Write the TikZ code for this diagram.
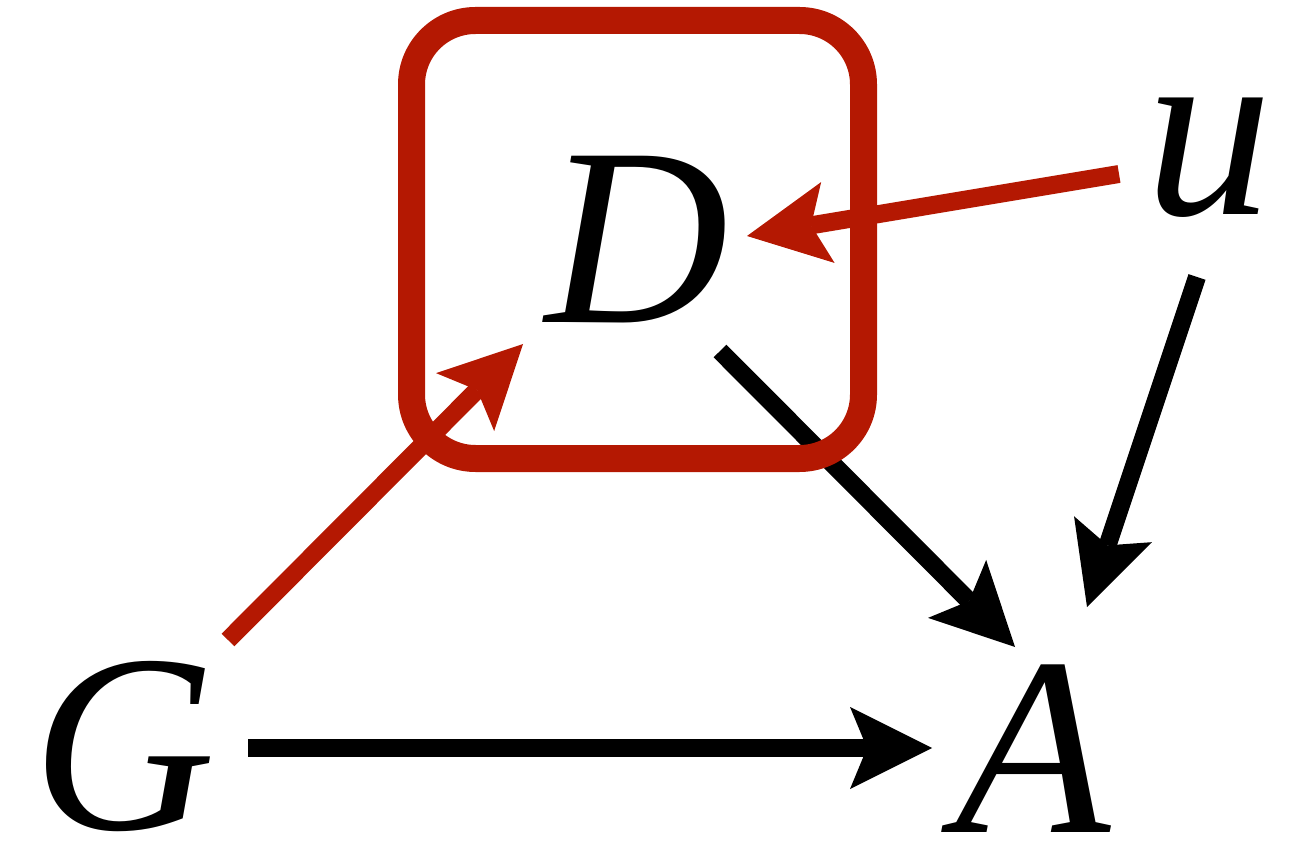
\documentclass[tikz,border=0pt]{standalone}
\usepackage{fontspec}
\setmainfont{Liberation Serif}
\usetikzlibrary{arrows.meta}
\definecolor{boxred}{RGB}{180,24,2}
\tikzset{
  lbl/.style={inner sep=0pt, outer sep=0pt, anchor=base, font=\fontsize{127}{127}\selectfont\itshape},
  arr/.style={line width=9pt, -{Stealth[length=41pt, width=41pt, inset=8.5pt, line width=0pt]}},
  blackarr/.style={arr, draw=black, fill=black},
  redarr/.style={arr, draw=boxred, fill=boxred},
  selbox/.style={draw=boxred, line width=13.5pt, rounded corners=32pt, minimum width=226pt, minimum height=219pt, inner sep=0pt}
}
\begin{document}
\begin{tikzpicture}[x=0.5pt,y=-0.5pt]
\useasboundingbox (0,0) rectangle (1307,845);
% nodes (base anchor at baseline)
\node[lbl] (G) at (124,829) {G};
\node[lbl] (D) at (637,323) {D};
\node[lbl] (A) at (1033,832) {A};
\node[lbl] (u) at (1209,215) {u};
% black connectors
\draw[blackarr] ([shift={(124,-81)}]G.base) -- ([shift={(-101,-84)}]A.base);
\draw[blackarr] ([shift={(83,28)}]D.base) -- ([shift={(-18,-185)}]A.base);
\draw[blackarr] ([shift={(-12,62)}]u.base) -- ([shift={(54,-225)}]A.base);
% red connectors
\draw[redarr] ([shift={(-90,-41)}]u.base) -- ([shift={(110,-87)}]D.base);
\draw[redarr] ([shift={(104,-189)}]G.base) -- ([shift={(-114,21)}]D.base);
% red selection box around D
\node[selbox] (box) at (637.5,239.5) {};
\end{tikzpicture}
\end{document}
